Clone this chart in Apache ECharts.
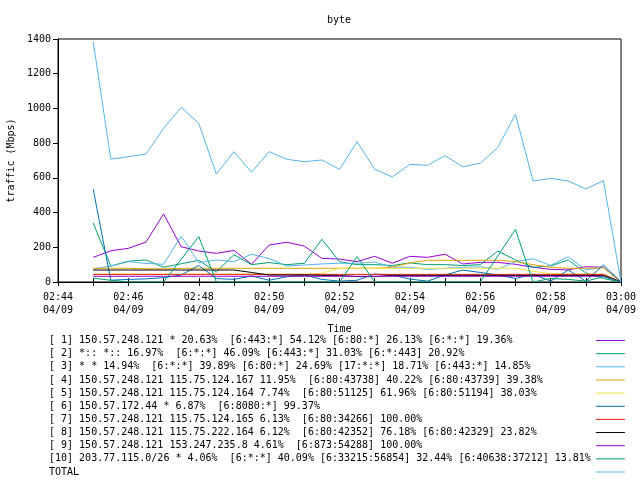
<!DOCTYPE html>
<html>
<head>
<meta charset="utf-8">
<script src="https://cdn.jsdelivr.net/npm/echarts@6/dist/echarts.min.js"></script>
<style>html,body{margin:0;padding:0;background:#fff}#c{width:640px;height:480px}</style>
</head>
<body>
<div id="c"></div>
<script>
const times = ["02:45:00","02:45:30","02:46:00","02:46:30","02:47:00","02:47:30","02:48:00","02:48:30","02:49:00","02:49:30","02:50:00","02:50:30","02:51:00","02:51:30","02:52:00","02:52:30","02:53:00","02:53:30","02:54:00","02:54:30","02:55:00","02:55:30","02:56:00","02:56:30","02:57:00","02:57:30","02:58:00","02:58:30","02:59:00","02:59:30","03:00:00"];
const xTickLabels = ["02:44","02:46","02:48","02:50","02:52","02:54","02:56","02:58","03:00"];
const xDate = "04/09";
const yTicks = [0,200,400,600,800,1000,1200,1400];

const s1 = [142,180,194,230,392,203,179,165,182,102,213,229,207,136,132,117,148,108,148,142,160,104,113,113,102,85,73,70,88,85,0];
const s2 = [340,92,120,127,85,105,125,58,157,100,112,100,108,246,117,100,100,95,110,100,100,95,100,178,127,85,92,127,52,20,0];
const s3 = [75,92,117,107,102,265,111,127,117,160,135,92,98,104,108,108,115,85,85,73,79,85,88,73,117,134,96,146,69,85,0];
const s4 = [79,79,79,76,76,79,79,79,79,79,79,79,79,79,79,79,79,85,110,125,125,125,125,125,118,100,85,79,79,82,0];
const s5 = [45,45,45,45,45,45,45,45,45,45,45,45,45,50,79,79,79,79,79,79,79,79,79,79,79,62,48,45,45,45,0];
const s6 = [535,10,15,18,25,40,95,20,15,35,10,30,40,15,5,10,46,40,17,5,40,69,55,40,20,45,5,69,5,98,0];
const s7 = [44,44,44,44,44,44,44,44,44,44,44,44,44,44,44,44,44,44,44,44,44,44,44,44,44,44,44,44,44,44,0];
const s8 = [69,69,69,69,69,69,69,69,69,55,40,40,40,38,38,31,31,38,38,38,38,38,38,38,38,38,38,38,38,38,0];
const s9 = [33,33,33,33,33,33,33,33,33,33,33,33,33,33,33,33,33,33,33,33,33,33,33,33,33,33,33,33,33,33,0];
const s10 = [22,10,0,0,0,130,262,0,0,0,0,0,0,0,0,146,0,0,0,0,0,0,0,150,303,0,20,15,5,30,0];
const total = [1385,708,722,737,885,1006,914,622,751,632,751,707,693,703,649,808,650,605,678,672,728,664,684,775,966,582,597,582,536,584,0];

const names = [
"[ 1] 150.57.248.121 * 20.63%  [6:443:*] 54.12% [6:80:*] 26.13% [6:*:*] 19.36%",
"[ 2] *:: *:: 16.97%  [6:*:*] 46.09% [6:443:*] 31.03% [6:*:443] 20.92%",
"[ 3] * * 14.94%  [6:*:*] 39.89% [6:80:*] 24.69% [17:*:*] 18.71% [6:443:*] 14.85%",
"[ 4] 150.57.248.121 115.75.124.167 11.95%  [6:80:43738] 40.22% [6:80:43739] 39.38%",
"[ 5] 150.57.248.121 115.75.124.164 7.74%  [6:80:51125] 61.96% [6:80:51194] 38.03%",
"[ 6] 150.57.172.44 * 6.87%  [6:8080:*] 99.37%",
"[ 7] 150.57.248.121 115.75.124.165 6.13%  [6:80:34266] 100.00%",
"[ 8] 150.57.248.121 115.75.222.164 6.12%  [6:80:42352] 76.18% [6:80:42329] 23.82%",
"[ 9] 150.57.248.121 153.247.235.8 4.61%  [6:873:54288] 100.00%",
"[10] 203.77.115.0/26 * 4.06%  [6:*:*] 40.09% [6:33215:56854] 32.44% [6:40638:37212] 13.81%",
"TOTAL"
];
const colors = ["#9400d3","#009e73","#56b4e9","#e69f00","#f0e442","#0072b2","#e51e10","#000000","#9400d3","#009e73","#56b4e9"];
const values = [s1,s2,s3,s4,s5,s6,s7,s8,s9,s10,total];

function toMin(t){ const p=t.split(":").map(Number); return (p[0]*60+p[1]+p[2]/60) - (2*60+44); }
const xs = times.map(toMin);
const padLen = Math.max(...names.map(n=>n.length));
const FONT = "DejaVu Sans Mono";

const series = values.map((v,k)=>({
  name: names[k], type:'line', symbol:'none', silent:true, animation:false,
  lineStyle:{width:1, color:colors[k]}, itemStyle:{color:colors[k]},
  data: v.map((y,i)=>[xs[i], y])
}));

const chart = echarts.init(document.getElementById('c'));
chart.setOption({
  animation:false,
  backgroundColor:'#fff',
  color: colors,
  title:{text:'byte', left:327, top:15, padding:0, textStyle:{fontFamily:FONT, fontSize:10, fontWeight:'normal', color:'#000'}},
  grid:{left:58, right:19, top:39, bottom:198, containLabel:false, outerBoundsMode:'none', show:true, borderColor:'#000', borderWidth:1, backgroundColor:'transparent'},
  legend:{
    orient:'vertical', left:49, top:334, padding:0, itemGap:0.15, itemWidth:29, itemHeight:1, icon:'rect', align:'right',
    selectedMode:false,
    formatter: n => n.padEnd(padLen, ' '),
    textStyle:{fontFamily:FONT, fontSize:10, color:'#000', lineHeight:13},
    data: names
  },
  xAxis:[{
    type:'value', min:0, max:16, interval:1, position:'bottom',
    name:'Time', nameLocation:'middle', nameGap:42,
    nameTextStyle:{fontFamily:FONT, fontSize:10, color:'#000'},
    axisLine:{show:true, lineStyle:{color:'#000', width:1}},
    axisTick:{show:true, inside:true, length:4, lineStyle:{color:'#000'}},
    splitLine:{show:false},
    axisLabel:{fontFamily:FONT, fontSize:10, color:'#000', margin:9, lineHeight:13,
      formatter: v => (v%2===0) ? (xTickLabels[v/2] + "\n" + xDate) : ''}
  },{
    type:'value', min:0, max:16, interval:1, position:'top',
    axisLine:{show:true, lineStyle:{color:'#000', width:1}},
    axisTick:{show:true, inside:true, length:4, lineStyle:{color:'#000'}},
    axisLabel:{show:false}, splitLine:{show:false}
  }],
  yAxis:[{
    type:'value', min:yTicks[0], max:yTicks[yTicks.length-1], interval:200,
    name:'traffic (Mbps)', nameLocation:'middle', nameGap:42, nameRotate:90,
    nameTextStyle:{fontFamily:FONT, fontSize:10, color:'#000'},
    axisLine:{show:true, lineStyle:{color:'#000', width:1}},
    axisTick:{show:false},
    splitLine:{show:false},
    axisLabel:{fontFamily:FONT, fontSize:10, color:'#000', margin:7, formatter: v => String(v)}
  },{
    type:'value', min:yTicks[0], max:yTicks[yTicks.length-1], interval:200, position:'right',
    axisLine:{show:true, lineStyle:{color:'#000', width:1}},
    axisTick:{show:true, inside:true, length:5, lineStyle:{color:'#000'}},
    axisLabel:{show:false}, splitLine:{show:false}
  }],
  series: series
});
</script>
</body>
</html>
